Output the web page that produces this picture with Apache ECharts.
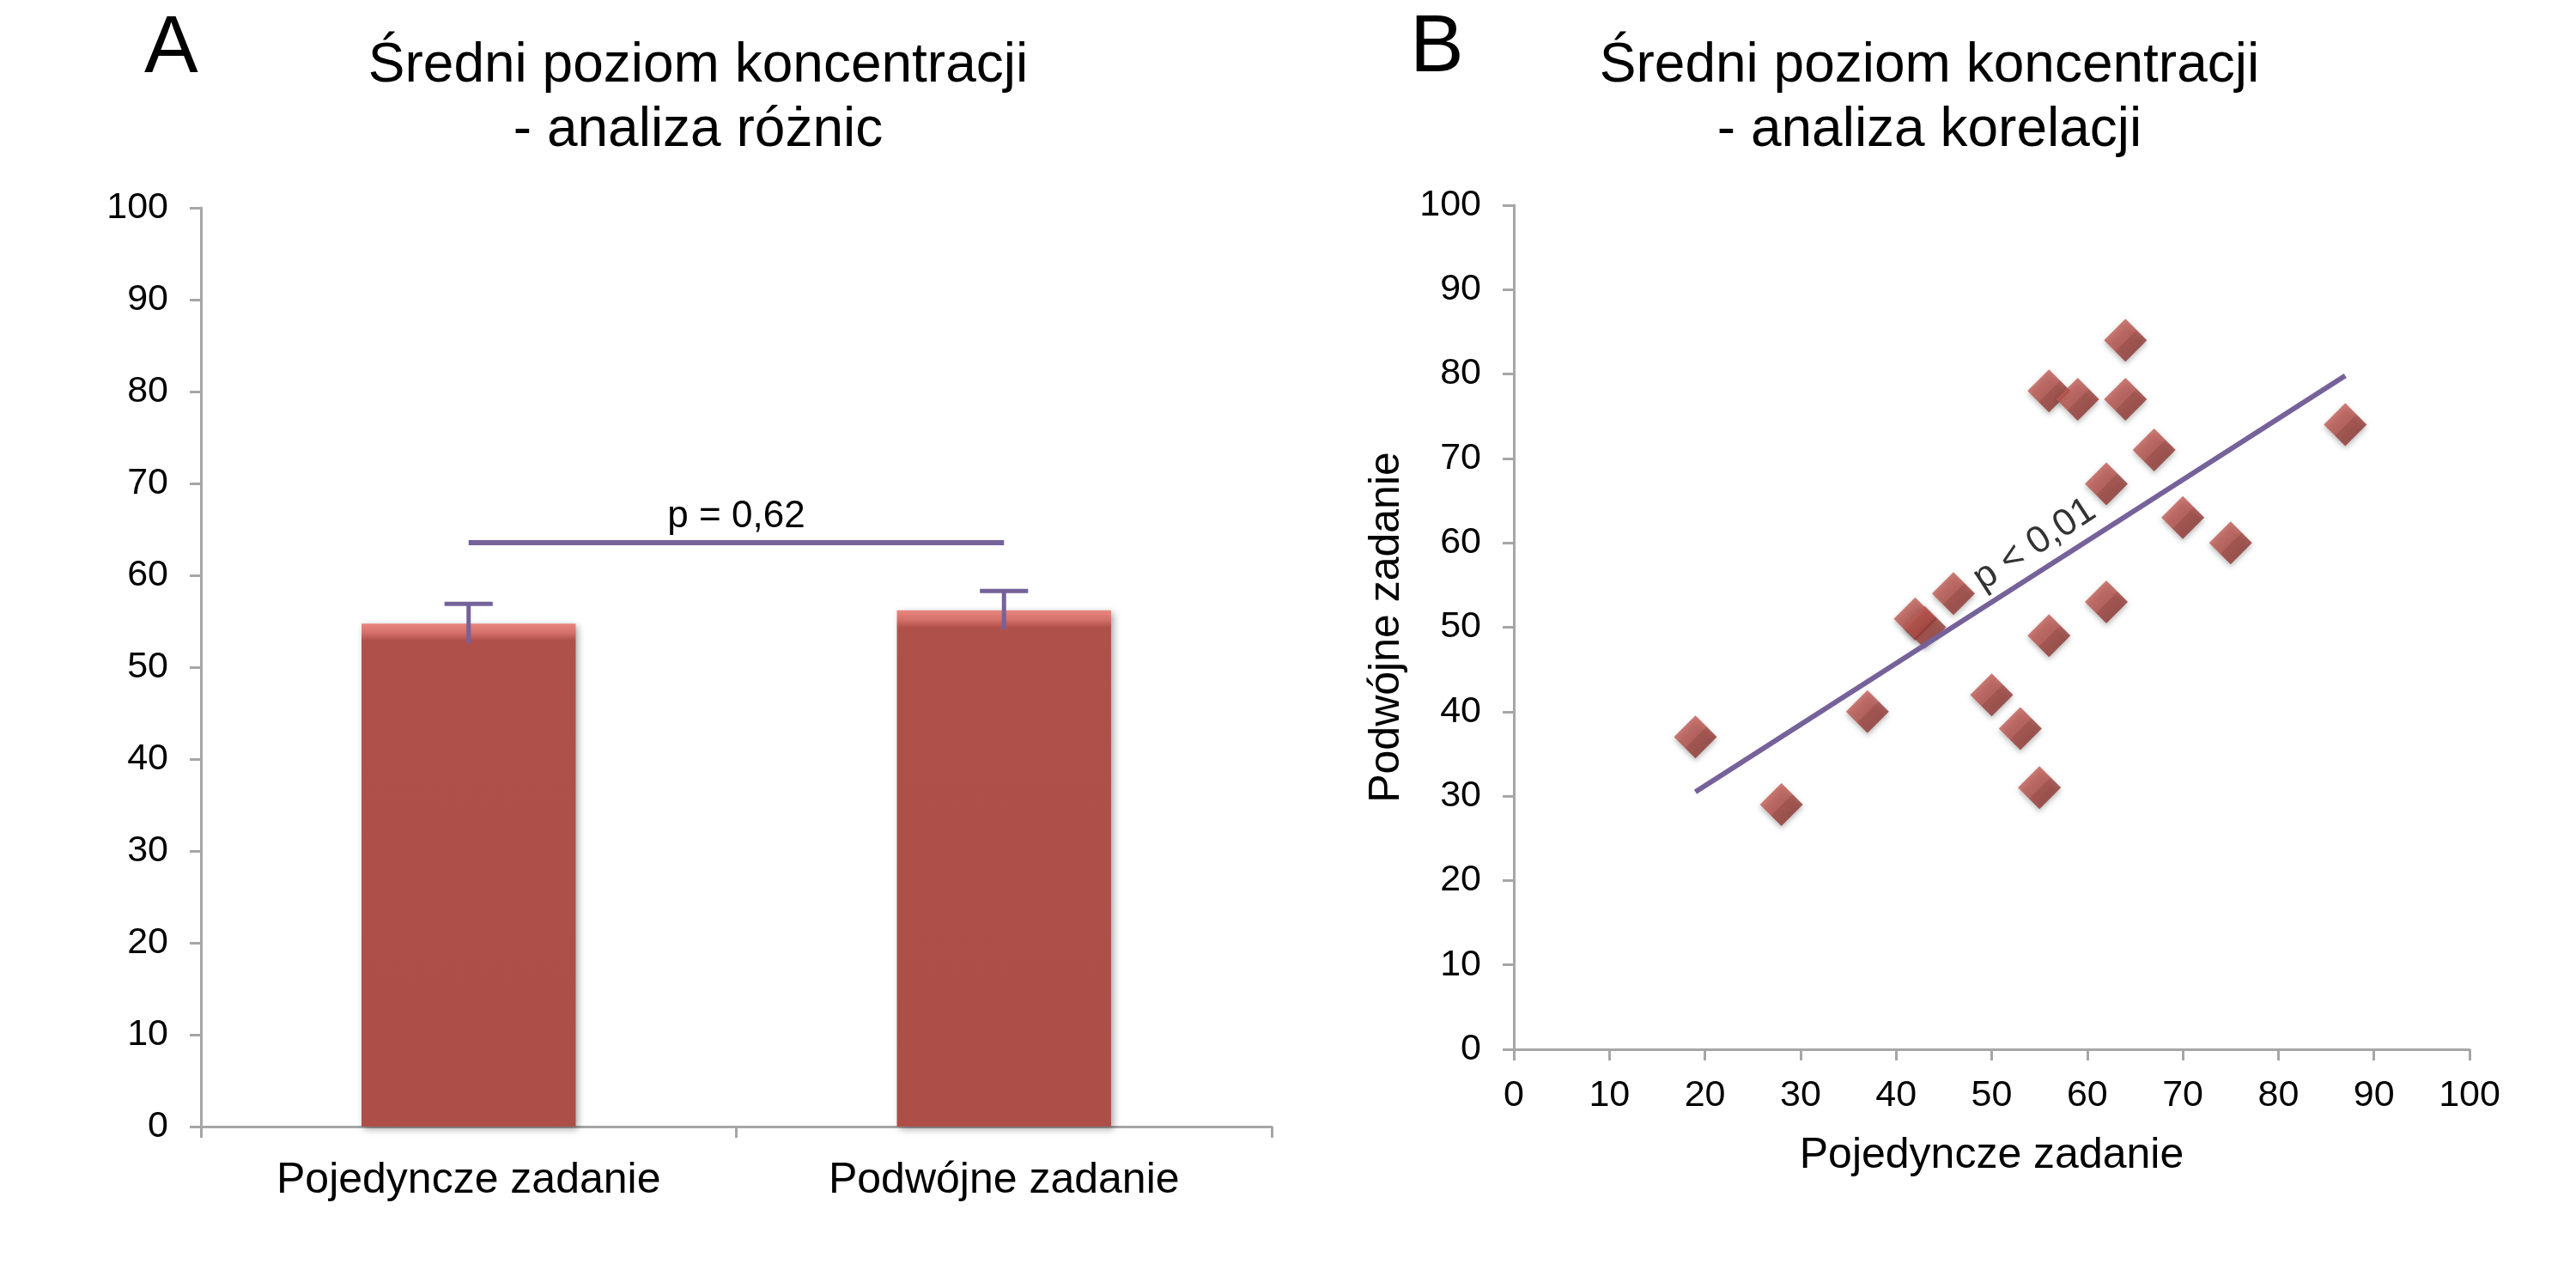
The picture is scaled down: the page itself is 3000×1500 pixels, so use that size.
<!DOCTYPE html>
<html>
<head>
<meta charset="utf-8">
<script src="https://cdn.jsdelivr.net/npm/echarts@6/dist/echarts.min.js"></script>
<style>
  html, body { margin: 0; padding: 0; background: #fff; }
  #main { width: 3000px; height: 1500px; }
</style>
</head>
<body>
<div id="main"></div>
<script>
// panel A: mean values with error bars
var taskNames = ['Pojedyncze zadanie', 'Podwójne zadanie'];
var meanScores = [54.75, 56.2];
var meanErrors = [2.15, 2.1];
var sigLevel = 63.6;
var sigText = 'p = 0,62';

// panel B: single task vs dual task, one point per person
var singleTask = [19, 28, 37, 42, 43, 46, 50, 53, 55, 56, 56, 59, 62, 62, 64, 64, 67, 70, 75, 87];
var dualTask   = [37, 29, 40, 51, 50, 54, 42, 38, 31, 49, 78, 77, 53, 67, 84, 77, 71, 63, 60, 74];
var trendX = [19, 87];
var trendY = [30.5, 79.8];
var corrText = 'p < 0,01';
var corrTextAt = [54.5, 59.8];

var axisTicks = [0, 10, 20, 30, 40, 50, 60, 70, 80, 90, 100];

var FONT = "'Liberation Sans', Arial, sans-serif";
var PURPLE = '#76629a';
var AXIS_GREY = '#a6a6a6';

window.onload = function () {
    var chart = echarts.init(document.getElementById('main'));

    var scatterData = singleTask.map(function (x, i) {
        return [x, dualTask[i]];
    });
    var trendData = trendX.map(function (x, i) {
        return [x, trendY[i]];
    });
    var errorData = meanScores.map(function (m, i) {
        return [i, m - meanErrors[i], m + meanErrors[i]];
    });

    function axisLine() {
        return { show: true, lineStyle: { color: AXIS_GREY, width: 3 } };
    }
    function axisTick() {
        return { show: true, length: 13, lineStyle: { color: AXIS_GREY, width: 3 } };
    }
    function valueAxis(grid, extra) {
        var axis = {
            type: 'value',
            gridIndex: grid,
            min: axisTicks[0],
            max: axisTicks[axisTicks.length - 1],
            interval: 10,
            axisLine: axisLine(),
            axisTick: axisTick(),
            splitLine: { show: false },
            axisLabel: { fontSize: 43, color: '#000', fontFamily: FONT, margin: 38 }
        };
        for (var k in extra) axis[k] = extra[k];
        return axis;
    }

    function renderErrorBar(params, api) {
        var cat = api.value(0);
        var lo = api.coord([cat, api.value(1)]);
        var hi = api.coord([cat, api.value(2)]);
        var capHalf = api.size([1, 0])[0] * 0.045;
        var style = { stroke: PURPLE, lineWidth: 5 };
        return {
            type: 'group',
            children: [
                { type: 'line', shape: { x1: lo[0], y1: lo[1], x2: hi[0], y2: hi[1] }, style: style },
                { type: 'line', shape: { x1: hi[0] - capHalf, y1: hi[1], x2: hi[0] + capHalf, y2: hi[1] }, style: style }
            ]
        };
    }

    var option = {
        backgroundColor: '#fff',
        animation: false,
        textStyle: { fontFamily: FONT },
        title: [
            { text: 'A', left: 168, top: 11, padding: 0,
              textStyle: { fontSize: 94, lineHeight: 94, fontWeight: 'normal', color: '#000', fontFamily: FONT } },
            { text: 'Średni poziom koncentracji\n- analiza różnic', left: 813, top: 40, padding: 0, textAlign: 'center',
              textStyle: { fontSize: 64, lineHeight: 75, fontWeight: 'normal', color: '#000', fontFamily: FONT } },
            { text: 'B', left: 1642, top: 10, padding: 0,
              textStyle: { fontSize: 94, lineHeight: 94, fontWeight: 'normal', color: '#000', fontFamily: FONT } },
            { text: 'Średni poziom koncentracji\n- analiza korelacji', left: 2247, top: 40, padding: 0, textAlign: 'center',
              textStyle: { fontSize: 64, lineHeight: 75, fontWeight: 'normal', color: '#000', fontFamily: FONT } }
        ],
        grid: [
            { left: 234, right: 1519, top: 242, bottom: 188 },
            { left: 1763, right: 124, top: 239, bottom: 278 }
        ],
        xAxis: [
            {
                type: 'category',
                gridIndex: 0,
                data: taskNames,
                axisLine: axisLine(),
                axisTick: axisTick(),
                splitLine: { show: false },
                axisLabel: { fontSize: 50, color: '#000', fontFamily: FONT, margin: 38 }
            },
            valueAxis(1, {
                name: 'Pojedyncze zadanie',
                nameLocation: 'middle',
                nameGap: 99,
                nameTextStyle: { fontSize: 50, color: '#000', fontFamily: FONT },
                axisLabel: { fontSize: 43, color: '#000', fontFamily: FONT, margin: 33 }
            })
        ],
        yAxis: [
            valueAxis(0, {}),
            valueAxis(1, {
                name: 'Podwójne zadanie',
                nameLocation: 'middle',
                nameGap: 123,
                nameTextStyle: { fontSize: 50, color: '#000', fontFamily: FONT }
            })
        ],
        series: [
            {
                type: 'bar',
                xAxisIndex: 0,
                yAxisIndex: 0,
                data: meanScores,
                barWidth: '40%',
                itemStyle: {
                    color: new echarts.graphic.LinearGradient(0, 0, 0, 1, [
                        { offset: 0, color: '#e8877f' },
                        { offset: 0.018, color: '#d5716a' },
                        { offset: 0.034, color: '#b0504a' },
                        { offset: 1, color: '#ad4e48' }
                    ]),
                    shadowBlur: 8,
                    shadowColor: 'rgba(0,0,0,0.35)',
                    shadowOffsetX: 3,
                    shadowOffsetY: 3
                },
                markLine: {
                    silent: true,
                    symbol: ['none', 'none'],
                    lineStyle: { color: PURPLE, width: 6, type: 'solid' },
                    label: {
                        show: true,
                        position: 'middle',
                        formatter: sigText,
                        fontSize: 44,
                        color: '#000',
                        fontFamily: FONT,
                        distance: 8
                    },
                    data: [[
                        { coord: [taskNames[0], sigLevel] },
                        { coord: [taskNames[1], sigLevel] }
                    ]]
                }
            },
            {
                type: 'custom',
                xAxisIndex: 0,
                yAxisIndex: 0,
                renderItem: renderErrorBar,
                encode: { x: 0, y: [1, 2] },
                data: errorData,
                z: 5
            },
            {
                type: 'scatter',
                xAxisIndex: 1,
                yAxisIndex: 1,
                symbol: 'diamond',
                symbolSize: [50, 50],
                data: scatterData,
                itemStyle: {
                    color: new echarts.graphic.LinearGradient(0, 0, 1, 1, [
                        { offset: 0, color: '#d06a62' },
                        { offset: 0.5, color: '#b14c46' },
                        { offset: 0.52, color: '#9c3d37' },
                        { offset: 1, color: '#7f2e2a' }
                    ]),
                    shadowBlur: 6,
                    shadowColor: 'rgba(0,0,0,0.35)',
                    shadowOffsetY: 3
                }
            },
            {
                type: 'line',
                xAxisIndex: 1,
                yAxisIndex: 1,
                data: trendData,
                symbol: 'none',
                lineStyle: { color: PURPLE, width: 6 },
                z: 3
            },
            {
                type: 'scatter',
                xAxisIndex: 1,
                yAxisIndex: 1,
                symbolSize: 0,
                data: [corrTextAt],
                label: {
                    show: true,
                    position: 'inside',
                    formatter: corrText,
                    rotate: 33,
                    fontSize: 44,
                    color: '#000',
                    fontFamily: FONT
                },
                z: 4
            }
        ]
    };

    chart.setOption(option);
};
</script>
</body>
</html>
